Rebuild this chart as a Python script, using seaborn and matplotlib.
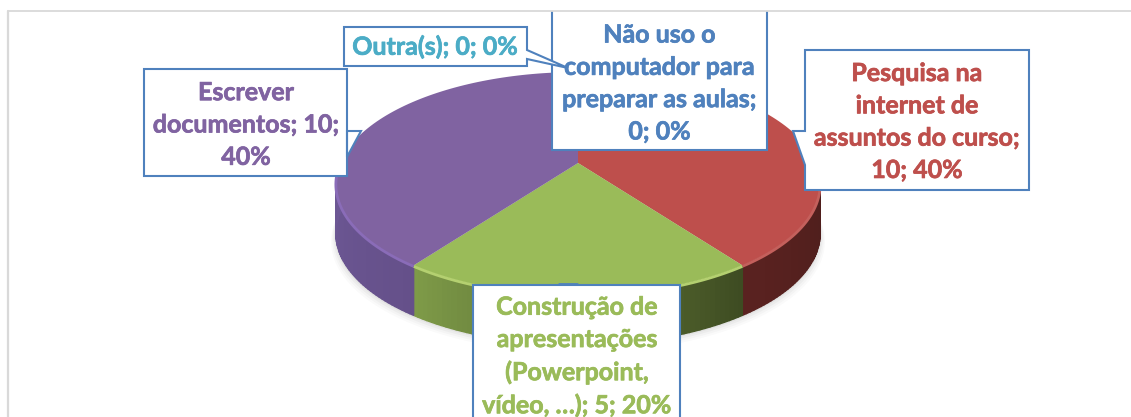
import numpy as np
import seaborn as sns
import matplotlib.pyplot as plt
import matplotlib.patheffects as pe
from matplotlib.patches import Polygon

# --- Data ---
categories = ["Pesquisa", "Construcao", "Escrever", "Outra", "Nao uso"]
values = [10, 5, 10, 0, 0]
labels = [
    "Pesquisa na\ninternet de\nassuntos do curso;\n10; 40%",
    "Construção de\napresentações\n(Powerpoint,\nvídeo, …); 5; 20%",
    "Escrever\ndocumentos; 10;\n40%",
    "Outra(s); 0; 0%",
    "Não uso o\ncomputador para\npreparar as aulas;\n0; 0%",
]

# --- Styles ---
top_colors = ["#BE4F4C", "#9ABB59", "#8063A1", "#4BACC6", "#4F81BD"]
rim_colors = ["#C4605C", "#B4D070", "#8A6CB8", "#4BACC6", "#4F81BD"]
# wall colours, right end then left end of each slice
side_colors = [("#481C1A", "#5A2220"), ("#3E4C22", "#7E9A48"), ("#65508A", "#6F5A98"), ("#4BACC6", "#4BACC6"), ("#4F81BD", "#4F81BD")]
EDGE = "#4F81BD"
GRID = "#D9D9D9"

# pie geometry in pixels
CX, CY = 578, 163
PERSP = 0.184
A = 107.7
B = 238
DEPTH = 50
TEXT = dict(fontsize=18, fontweight="bold", ha="center", va="center", linespacing=1.49, zorder=9)


def rim(theta):
    # theta is clockwise from 12 o'clock, in radians
    d = 1 + PERSP * np.cos(theta)
    return CX + B * np.sin(theta) / d, CY - A * np.cos(theta) / d


def callout(ax, x0, y0, x1, y1, tail=None, side=None):
    """Label box with an optional wedge on its left or right edge."""
    pts = [(x0, y0), (x1, y0)]
    if side == "right":
        pts += tail
    pts += [(x1, y1), (x0, y1)]
    if side == "left":
        pts += tail
    ax.add_patch(Polygon(pts, closed=True, fc="white", ec=EDGE, lw=1.5, zorder=5, joinstyle="miter"))


def label(ax, x, y, i):
    t = ax.text(x, y, labels[i], color=top_colors[i], **TEXT)
    t.set_path_effects([pe.withStroke(linewidth=0.5, foreground=top_colors[i])])


sns.set_theme(style="white")
plt.rcParams["font.family"] = ["Lato", "DejaVu Sans"]

fig = plt.figure(figsize=(11.31, 4.17), dpi=100)
ax = fig.add_axes([0, 0, 1, 1])
ax.set_xlim(0, 1131)
ax.set_ylim(417, 0)
ax.axis("off")

# soft shadow under the pie
t = np.linspace(0, 2 * np.pi, 300)
rx, ry = rim(t)
for grow, alpha in [(8, 0.02), (6, 0.025), (4, 0.03), (2, 0.04)]:
    ax.fill(CX + (rx - CX) * (1 + grow / 400), ry + DEPTH + grow, color="black", alpha=alpha, lw=0, zorder=1)

# slices, side wall first and then top face
fracs = np.array(values) / sum(values)
ends = np.cumsum(fracs) * 2 * np.pi
starts = ends - fracs * 2 * np.pi

for i, (a0, a1) in enumerate(zip(starts, ends)):
    if values[i] == 0:
        continue
    lo, hi = max(a0, np.pi / 2 - 0.2), min(a1, 3 * np.pi / 2 + 0.2)
    if hi > lo:
        n = 60
        steps = np.linspace(lo, hi, n + 1)
        pal = sns.blend_palette(side_colors[i], n)
        for j in range(n):
            x, y = rim(steps[j:j + 2])
            ax.fill([x[0], x[1], x[1], x[0]], [y[0], y[1], y[1] + DEPTH, y[0] + DEPTH],
                    color=pal[j], lw=1, zorder=2)
    th = np.linspace(a0, a1, 100)
    x, y = rim(th)
    ax.fill(np.r_[CX, x], np.r_[CY, y], color=top_colors[i], lw=0, zorder=3)
    # bevel on the front edge
    front = th[(th > np.pi / 2) & (th < 3 * np.pi / 2)]
    if len(front):
        fx, fy = rim(front)
        ax.plot(fx, fy + 1, color=rim_colors[i], lw=2, zorder=3, solid_capstyle="butt")

# label boxes, the top one runs past the frame
callout(ax, 552, -5, 767, 150)
ax.fill([0, 1131, 1131, 0], [-6, -6, 11, 11], color="white", lw=0, zorder=6)
ax.plot([8, 1131], [11, 11], color=GRID, lw=1.3, zorder=7)
ax.plot([8, 8], [11, 417], color=GRID, lw=1.6, zorder=7)

label(ax, 659.5, 83.5, 4)

callout(ax, 344, 27, 527, 66, tail=[(527, 50), (568, 68), (527, 59)], side="right")
ax.patches[-1].set_zorder(8)
label(ax, 435, 47, 3)

callout(ax, 144, 69, 347, 176, tail=[(347, 157), (361, 131), (347, 131)], side="right")
label(ax, 246, 125, 2)

callout(ax, 805, 50, 1029, 190, tail=[(805, 165), (793, 131), (805, 131)], side="left")
label(ax, 917, 122, 0)

callout(ax, 473, 285, 680, 430)
ax.plot([559, 577], [284, 284], color=EDGE, lw=2, zorder=6)
label(ax, 577, 356.5, 1)

fig.savefig("out.png", dpi=100)
plt.close(fig)
